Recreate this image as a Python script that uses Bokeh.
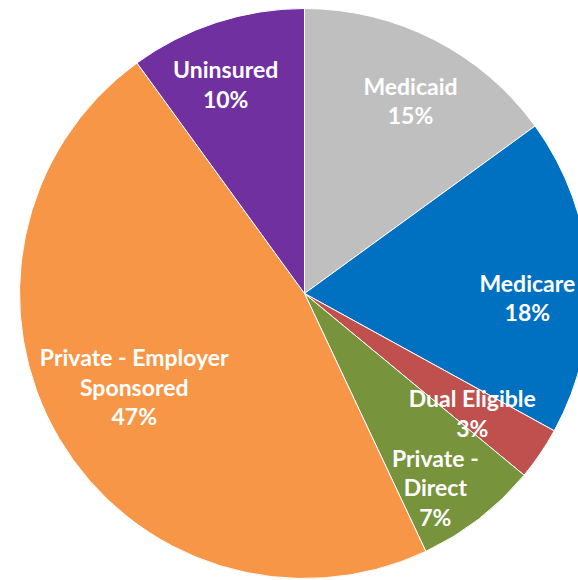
import math
from bokeh.plotting import figure
from bokeh.models import Range1d, ColumnDataSource
from bokeh.core.properties import value
from bokeh.embed import file_html
from bokeh.resources import INLINE

# Data (clockwise from 12 o'clock)
categories = ["Medicaid", "Medicare", "Dual Eligible", "Private - Direct",
              "Private - Employer Sponsored", "Uninsured"]
shares = [15, 18, 3, 7, 47, 10]
label_texts = ["Medicaid", "Medicare", "Dual Eligible", "Private -\nDirect",
               "Private - Employer\nSponsored", "Uninsured"]
colors = ["#BFBFBF", "#0070C0", "#C0504D", "#77933C", "#F79646", "#7030A0"]

# label placement (style): angular offset from slice mid (deg), radial fraction
label_offsets = [-1.8, -4.6, -1.3, -3.8, -1.9, 2.6]
label_fracs = [0.772, 0.782, 0.723, 0.821, 0.681, 0.786]

R = 285
total = sum(shares)
starts, ends, lx, ly, txt = [], [], [], [], []
cur = math.pi / 2
for s, lab, off, fr in zip(shares, label_texts, label_offsets, label_fracs):
    a = 2 * math.pi * s / total
    end_a = cur
    start_a = cur - a
    starts.append(start_a)
    ends.append(end_a)
    mid = (start_a + end_a) / 2 + math.radians(off)
    lx.append(R * fr * math.cos(mid))
    ly.append(R * fr * math.sin(mid))
    txt.append(f"{lab}\n{s}%")
    cur = start_a

src = ColumnDataSource(dict(start=starts, end=ends, color=colors))
lsrc = ColumnDataSource(dict(x=lx, y=ly, text=txt))

W, H = 578, 580
CX, CY = 304, 293
p = figure(width=W, height=H, output_backend="svg", toolbar_location=None,
           x_range=Range1d(-CX, W - CX), y_range=Range1d(CY - H, CY),
           min_border=0, outline_line_color=None, background_fill_color="white")
p.axis.visible = False
p.grid.visible = False

p.wedge(x=0, y=0, radius=R, start_angle="start", end_angle="end",
        fill_color="color", line_color="white", line_width=1, source=src)
p.text(x="x", y="y", text="text", source=lsrc, text_color="white",
       text_font=value("Lato"), text_font_style="bold", text_font_size="23px",
       text_align="center", text_baseline="middle", text_line_height=1.05)

open("out.html", "w").write(file_html(p, INLINE))
